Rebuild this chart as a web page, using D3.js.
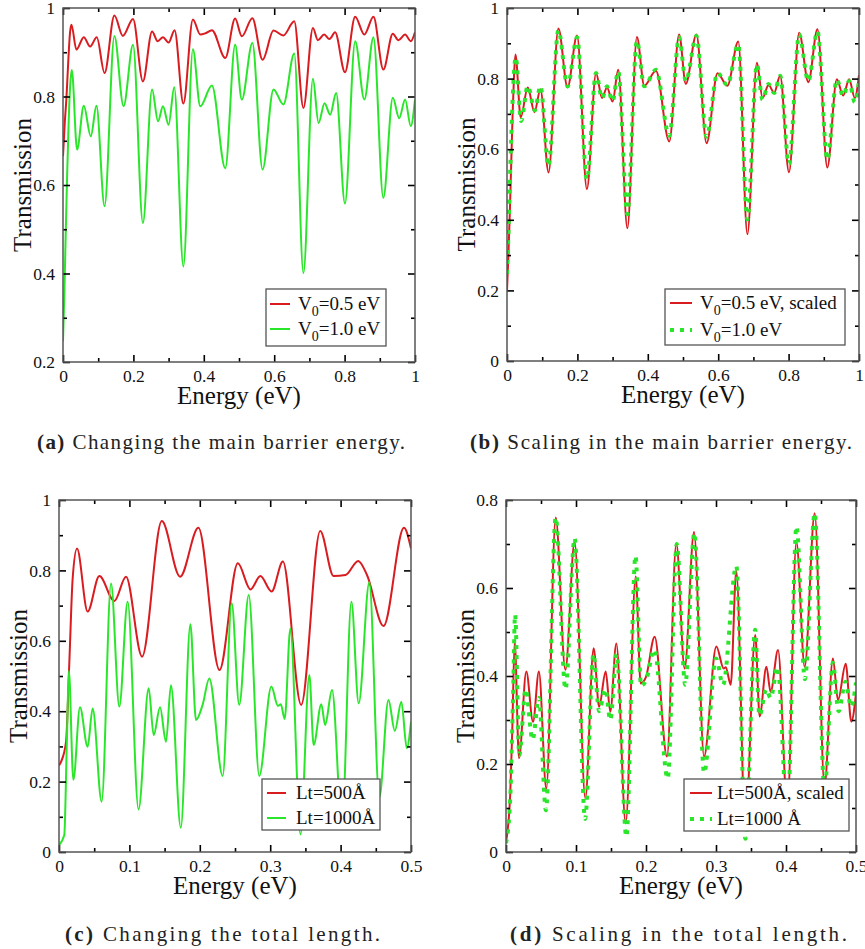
<!DOCTYPE html>
<html>
<head>
<meta charset="utf-8">
<script src="https://cdn.jsdelivr.net/npm/d3@7"></script>
<style>
  body { margin: 0; background: #fff; }
  svg { display: block; font-family: "Liberation Serif", "Times New Roman", serif; }
</style>
</head>
<body>
<svg id="fig" width="865" height="949"></svg>
<script>
// ---- Transmission spectra, [energy (eV), transmission] ----
const v05Curve = [[0,0.665],[0.005,0.74],[0.01,0.80],[0.015,0.88],[0.02,0.945],[0.024,0.962],[0.038,0.906],[0.059,0.934],[0.077,0.913],[0.096,0.934],[0.118,0.853],[0.146,0.983],[0.170,0.937],[0.199,0.975],[0.227,0.834],[0.253,0.947],[0.269,0.925],[0.284,0.934],[0.300,0.922],[0.317,0.950],[0.342,0.784],[0.369,0.974],[0.390,0.940],[0.405,0.943],[0.423,0.950],[0.461,0.887],[0.489,0.976],[0.508,0.936],[0.538,0.977],[0.567,0.883],[0.598,0.949],[0.626,0.938],[0.657,0.970],[0.683,0.774],[0.710,0.955],[0.724,0.927],[0.742,0.940],[0.757,0.930],[0.773,0.945],[0.801,0.855],[0.830,0.980],[0.856,0.940],[0.882,0.980],[0.910,0.861],[0.937,0.942],[0.953,0.927],[0.972,0.940],[0.988,0.925],[1.0,0.945]];

const v10Curve = [[0,0.247],[0.004,0.36],[0.008,0.50],[0.012,0.63],[0.016,0.74],[0.020,0.82],[0.025,0.860],[0.040,0.680],[0.059,0.779],[0.079,0.710],[0.095,0.779],[0.118,0.552],[0.146,0.937],[0.172,0.778],[0.199,0.917],[0.227,0.514],[0.253,0.816],[0.270,0.744],[0.284,0.778],[0.300,0.736],[0.316,0.821],[0.342,0.416],[0.369,0.907],[0.390,0.778],[0.423,0.825],[0.461,0.638],[0.489,0.917],[0.508,0.793],[0.538,0.921],[0.567,0.635],[0.598,0.816],[0.626,0.782],[0.657,0.897],[0.683,0.401],[0.710,0.840],[0.726,0.740],[0.743,0.785],[0.759,0.759],[0.776,0.808],[0.801,0.558],[0.830,0.925],[0.856,0.793],[0.882,0.934],[0.910,0.571],[0.937,0.797],[0.955,0.751],[0.972,0.793],[0.988,0.733],[1.0,0.793]];

const v05Scaled = [[0,0.20],[0.004,0.30],[0.008,0.42],[0.012,0.56],[0.016,0.70],[0.020,0.81],[0.024,0.868],[0.039,0.690],[0.059,0.775],[0.078,0.705],[0.095,0.770],[0.118,0.534],[0.146,0.942],[0.172,0.775],[0.199,0.922],[0.227,0.487],[0.253,0.815],[0.270,0.745],[0.284,0.775],[0.300,0.735],[0.316,0.825],[0.342,0.376],[0.369,0.918],[0.390,0.780],[0.423,0.822],[0.461,0.622],[0.489,0.925],[0.508,0.785],[0.538,0.925],[0.567,0.617],[0.598,0.815],[0.626,0.780],[0.657,0.905],[0.683,0.359],[0.710,0.845],[0.726,0.745],[0.743,0.782],[0.759,0.760],[0.776,0.808],[0.801,0.535],[0.830,0.930],[0.856,0.790],[0.882,0.940],[0.910,0.548],[0.937,0.798],[0.955,0.752],[0.972,0.798],[0.988,0.745],[1.0,0.81]];

const lt500Curve = [[0,0.246],[0.003,0.257],[0.010,0.313],[0.0147,0.54],[0.0194,0.777],[0.0256,0.862],[0.0407,0.683],[0.0573,0.784],[0.0786,0.713],[0.0952,0.782],[0.118,0.555],[0.146,0.940],[0.172,0.782],[0.198,0.921],[0.228,0.517],[0.254,0.820],[0.272,0.746],[0.286,0.784],[0.302,0.740],[0.318,0.825],[0.344,0.418],[0.371,0.912],[0.390,0.784],[0.407,0.787],[0.425,0.827],[0.4375,0.787],[0.461,0.642],[0.490,0.921],[0.5,0.862]];

const lt1000Curve = [[0,0.02],[0.0075,0.048],[0.011,0.30],[0.014,0.515],[0.0204,0.205],[0.0298,0.411],[0.0407,0.299],[0.0478,0.408],[0.0606,0.143],[0.0739,0.763],[0.0857,0.413],[0.0975,0.711],[0.113,0.121],[0.1274,0.465],[0.1345,0.332],[0.1435,0.411],[0.152,0.313],[0.159,0.474],[0.173,0.069],[0.1866,0.647],[0.1946,0.375],[0.204,0.418],[0.2135,0.493],[0.2325,0.216],[0.2453,0.707],[0.256,0.418],[0.2695,0.730],[0.2845,0.216],[0.3016,0.470],[0.311,0.415],[0.315,0.42],[0.3206,0.378],[0.3286,0.635],[0.343,0.05],[0.3556,0.503],[0.3617,0.304],[0.3726,0.42],[0.378,0.361],[0.3878,0.46],[0.402,0.08],[0.4153,0.711],[0.4257,0.422],[0.4408,0.766],[0.455,0.155],[0.468,0.432],[0.477,0.344],[0.4863,0.427],[0.494,0.295],[0.5,0.37]];

const lt500Scaled = [[0,0.023],[0.006,0.13],[0.009,0.28],[0.0124,0.478],[0.0186,0.213],[0.029,0.41],[0.0386,0.296],[0.047,0.41],[0.0576,0.144],[0.071,0.76],[0.0848,0.414],[0.098,0.705],[0.1133,0.122],[0.1252,0.463],[0.133,0.33],[0.1424,0.41],[0.149,0.319],[0.1576,0.474],[0.171,0.065],[0.1853,0.626],[0.1924,0.383],[0.200,0.398],[0.2124,0.489],[0.230,0.217],[0.2433,0.701],[0.2552,0.417],[0.2686,0.727],[0.2829,0.217],[0.3005,0.467],[0.311,0.417],[0.314,0.42],[0.321,0.38],[0.329,0.639],[0.342,0.05],[0.356,0.493],[0.3624,0.308],[0.372,0.421],[0.378,0.364],[0.3886,0.459],[0.402,0.10],[0.4148,0.705],[0.4267,0.421],[0.441,0.77],[0.455,0.15],[0.467,0.44],[0.4743,0.345],[0.4853,0.428],[0.4933,0.296],[0.5,0.36]];

const lt1000Dots = [[0,0.02],[0.006,0.12],[0.010,0.35],[0.013,0.54],[0.019,0.22],[0.028,0.37],[0.038,0.255],[0.047,0.35],[0.057,0.095],[0.071,0.76],[0.085,0.37],[0.098,0.713],[0.113,0.075],[0.125,0.45],[0.133,0.32],[0.142,0.37],[0.149,0.30],[0.158,0.45],[0.172,0.035],[0.185,0.673],[0.193,0.378],[0.200,0.39],[0.212,0.46],[0.231,0.167],[0.244,0.70],[0.256,0.38],[0.269,0.725],[0.283,0.18],[0.300,0.44],[0.310,0.38],[0.329,0.65],[0.342,0.03],[0.356,0.505],[0.362,0.31],[0.372,0.37],[0.378,0.35],[0.388,0.42],[0.402,0.08],[0.415,0.74],[0.427,0.393],[0.441,0.77],[0.455,0.14],[0.467,0.43],[0.475,0.32],[0.485,0.387],[0.493,0.33],[0.5,0.385]];

// ---- Tick values ----
const xTicksWide  = [0, 0.2, 0.4, 0.6, 0.8, 1];
const xMinorWide  = [0.1, 0.3, 0.5, 0.7, 0.9];
const xTicksHalf  = [0, 0.1, 0.2, 0.3, 0.4, 0.5];
const xMinorHalf  = [0.05, 0.15, 0.25, 0.35, 0.45];
const yTicksA     = [0.2, 0.4, 0.6, 0.8, 1];
const yMinorA     = [0.3, 0.5, 0.7, 0.9];
const yTicksUnit  = [0, 0.2, 0.4, 0.6, 0.8, 1];
const yMinorUnit  = [0.1, 0.3, 0.5, 0.7, 0.9];
const yTicksD     = [0, 0.2, 0.4, 0.6, 0.8];
const yMinorD     = [0.1, 0.3, 0.5, 0.7];

// ---- Text ----
const xTitle = "Energy (eV)";
const yTitle = "Transmission";
const captions = [
  ["(a)", " Changing the main barrier energy."],
  ["(b)", " Scaling in the main barrier energy."],
  ["(c)", " Changing the total length."],
  ["(d)", " Scaling in the total length."]
];

const RED = "#d81c20", GREEN = "#2ae62a";
const SERIF = "Liberation Serif, Times New Roman, serif";

const panels = [
  { box: [63, 8, 415, 362], xd: [0, 1], yd: [0.2, 1],
    xt: xTicksWide, xm: xMinorWide, yt: yTicksA, ym: yMinorA,
    series: [{ data: v05Curve, color: RED }, { data: v10Curve, color: GREEN }],
    legend: { box: [266, 289, 386, 346], lineX: [270, 290], rows: [304, 329], textX: 298,
      items: [{ color: RED, sub: ["V", "0", "=0.5 eV"] }, { color: GREEN, sub: ["V", "0", "=1.0 eV"] }] },
    caption: { idx: 0, x0: 37, x1: 405, y: 449 } },
  { box: [507, 8, 859, 361], xd: [0, 1], yd: [0, 1],
    xt: xTicksWide, xm: xMinorWide, yt: yTicksUnit, ym: yMinorUnit,
    series: [{ data: v05Scaled, color: RED }, { data: v10Curve, color: GREEN, dotted: true }],
    legend: { box: [665, 289, 845, 345], lineX: [670, 692], rows: [303, 330], textX: 700,
      items: [{ color: RED, sub: ["V", "0", "=0.5 eV, scaled"] }, { color: GREEN, dotted: true, sub: ["V", "0", "=1.0 eV"] }] },
    caption: { idx: 1, x0: 470, x1: 852, y: 449 } },
  { box: [59, 500, 411, 852], xd: [0, 0.5], yd: [0, 1],
    xt: xTicksHalf, xm: xMinorHalf, yt: yTicksUnit, ym: yMinorUnit,
    series: [{ data: lt500Curve, color: RED }, { data: lt1000Curve, color: GREEN }],
    legend: { box: [262, 779, 380, 830], lineX: [267, 286], rows: [793, 818], textX: 296,
      items: [{ color: RED, text: "Lt=500Å" }, { color: GREEN, text: "Lt=1000Å" }] },
    caption: { idx: 2, x0: 65, x1: 380, y: 941 } },
  { box: [506, 500, 856, 852], xd: [0, 0.5], yd: [0, 0.8],
    xt: xTicksHalf, xm: xMinorHalf, yt: yTicksD, ym: yMinorD,
    series: [{ data: lt500Scaled, color: RED }, { data: lt1000Dots, color: GREEN, dotted: true }],
    legend: { box: [684, 779, 849, 831], lineX: [690, 712], rows: [793, 819], textX: 717,
      items: [{ color: RED, text: "Lt=500Å, scaled" }, { color: GREEN, dotted: true, text: "Lt=1000 Å" }] },
    caption: { idx: 3, x0: 510, x1: 847, y: 941 } }
];

const svg = d3.select("#fig");
const fmt = d3.format("~g");
const DOT_DASH = "4,6";

panels.forEach((p, i) => {
  const [L, T, R, B] = p.box;
  const x = d3.scaleLinear().domain(p.xd).range([L, R]);
  const y = d3.scaleLinear().domain(p.yd).range([B, T]);
  const g = svg.append("g");

  const clipId = "clip" + i;
  svg.append("clipPath").attr("id", clipId)
    .append("rect").attr("x", L).attr("y", T).attr("width", R - L).attr("height", B - T);

  // curves
  const line = d3.line().x(d => x(d[0])).y(d => y(d[1])).curve(d3.curveMonotoneX);
  const curves = g.append("g").attr("clip-path", `url(#${clipId})`);
  p.series.forEach(s => {
    const path = curves.append("path").datum(s.data)
      .attr("d", line).attr("fill", "none").attr("stroke", s.color);
    if (s.dotted) path.attr("stroke-width", 4).attr("stroke-dasharray", DOT_DASH);
    else path.attr("stroke-width", 2).attr("stroke-linejoin", "round");
  });

  // legend
  const lg = p.legend;
  g.append("rect").attr("x", lg.box[0]).attr("y", lg.box[1])
    .attr("width", lg.box[2] - lg.box[0]).attr("height", lg.box[3] - lg.box[1])
    .attr("fill", "#fff").attr("stroke", "#555").attr("stroke-width", 1.3);
  lg.items.forEach((it, k) => {
    const ly = lg.rows[k];
    const sample = g.append("line").attr("x1", lg.lineX[0]).attr("x2", lg.lineX[1])
      .attr("y1", ly).attr("y2", ly).attr("stroke", it.color);
    if (it.dotted) sample.attr("stroke-width", 4).attr("stroke-dasharray", DOT_DASH);
    else sample.attr("stroke-width", 2);
    const t = g.append("text").attr("x", lg.textX).attr("y", ly + 6)
      .attr("font-family", SERIF).attr("font-size", 19).attr("fill", "#111");
    if (it.sub) {
      t.append("tspan").text(it.sub[0]);
      t.append("tspan").attr("font-size", 14).attr("dy", 6).text(it.sub[1]);
      t.append("tspan").attr("dy", -6).text(it.sub[2]);
    } else {
      t.text(it.text);
    }
  });

  // axes: major/minor inward ticks on all four sides
  const addAxis = (axis, transform, labels) => {
    const a = g.append("g").attr("transform", transform).call(axis);
    a.select(".domain").remove();
    a.selectAll(".tick line").attr("stroke", "#000").attr("stroke-width", 1.6);
    if (labels) a.selectAll("text").attr("font-size", 17.5).attr("fill", "#111")
      .attr("font-family", SERIF);
    else a.selectAll("text").remove();
  };
  addAxis(d3.axisBottom(x).tickValues(p.xt).tickSize(-7).tickPadding(8).tickFormat(fmt), `translate(0,${B})`, true);
  addAxis(d3.axisBottom(x).tickValues(p.xm).tickSize(-4).tickFormat(""), `translate(0,${B})`, false);
  addAxis(d3.axisTop(x).tickValues(p.xt).tickSize(-7).tickFormat(""), `translate(0,${T})`, false);
  addAxis(d3.axisTop(x).tickValues(p.xm).tickSize(-4).tickFormat(""), `translate(0,${T})`, false);
  addAxis(d3.axisLeft(y).tickValues(p.yt).tickSize(-7).tickPadding(8).tickFormat(fmt), `translate(${L},0)`, true);
  addAxis(d3.axisLeft(y).tickValues(p.ym).tickSize(-4).tickFormat(""), `translate(${L},0)`, false);
  addAxis(d3.axisRight(y).tickValues(p.yt).tickSize(-7).tickFormat(""), `translate(${R},0)`, false);
  addAxis(d3.axisRight(y).tickValues(p.ym).tickSize(-4).tickFormat(""), `translate(${R},0)`, false);

  // frame
  g.append("rect").attr("x", L).attr("y", T).attr("width", R - L).attr("height", B - T)
    .attr("fill", "none").attr("stroke", "#555").attr("stroke-width", 1.5);

  // axis titles
  g.append("text").attr("x", (L + R) / 2).attr("y", B + 42).attr("text-anchor", "middle")
    .attr("font-family", SERIF).attr("font-size", 25).attr("fill", "#111").text(xTitle);
  g.append("text").attr("transform", `translate(${L - 32},${(T + B) / 2}) rotate(-90)`)
    .attr("text-anchor", "middle").attr("font-family", SERIF)
    .attr("font-size", 25).attr("fill", "#111").text(yTitle);

  // caption
  const c = p.caption, cap = captions[c.idx];
  const ct = svg.append("text").attr("x", c.x0).attr("y", c.y)
    .attr("font-family", SERIF).attr("font-size", 21)
    .attr("fill", "#222").attr("textLength", c.x1 - c.x0).attr("lengthAdjust", "spacing");
  ct.append("tspan").attr("font-weight", "bold").text(cap[0]);
  ct.append("tspan").text(cap[1]);
});
</script>
</body>
</html>
